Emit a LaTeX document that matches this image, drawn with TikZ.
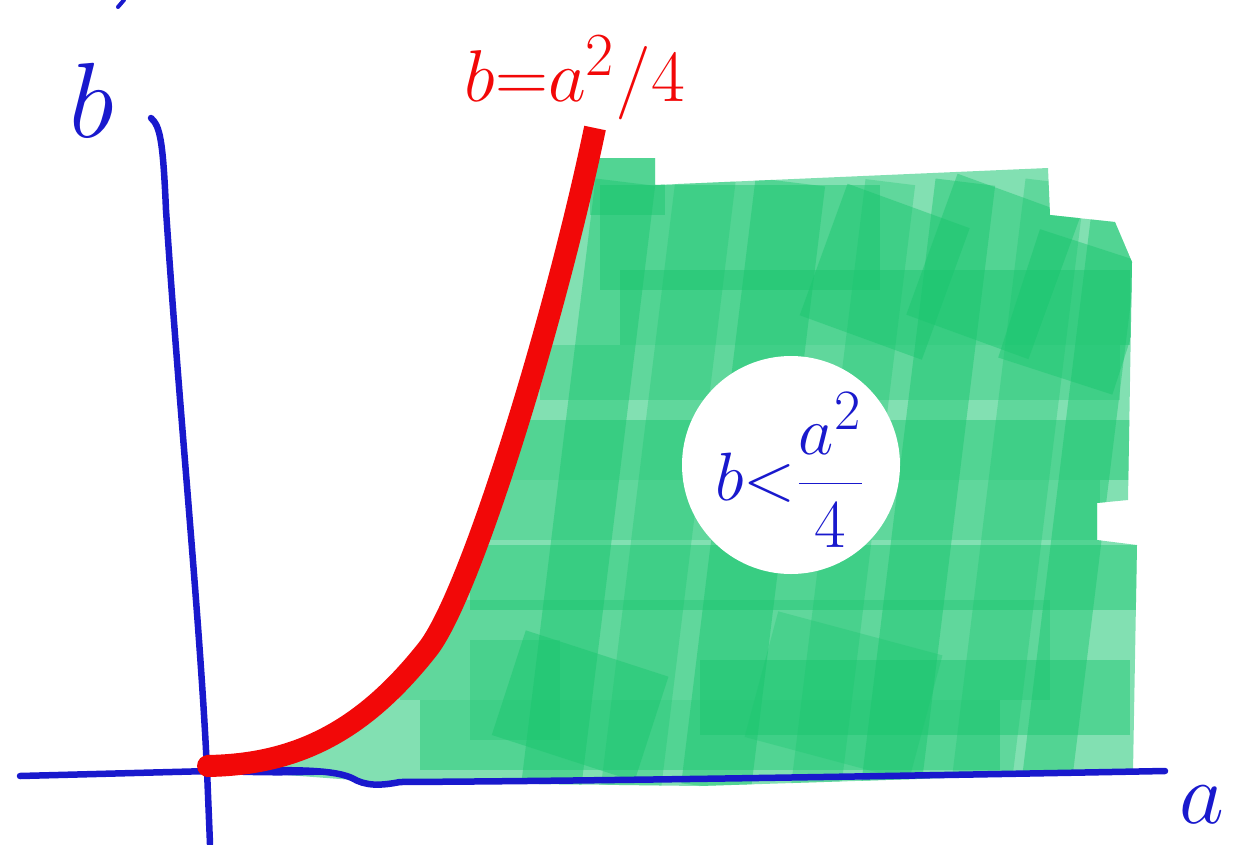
\documentclass[tikz,border=0pt]{standalone}
\definecolor{axisblue}{RGB}{25,25,205}
\definecolor{curvered}{RGB}{242,8,8}
\definecolor{glight}{RGB}{130,224,178}
\definecolor{gmid}{RGB}{25,198,110}
\tikzset{
  axisline/.style={draw=axisblue, line width=6.5pt, line cap=round, line join=round},
  patch/.style={fill=gmid, fill opacity=0.45},
  patchb/.style={fill=gmid, fill opacity=0.32},
  lbl/.style={inner sep=0pt, outer sep=0pt, font=\Huge, transform shape},
}
\begin{document}
\begin{tikzpicture}[x=1pt,y=-1pt]
\useasboundingbox (0,0) rectangle (1248,844);
\coordinate (O) at (210,771);
\coordinate (cstart) at (206,766);
\coordinate (cmid) at (427,650);
\coordinate (ctop) at (595,128);
% ---------- green region ----------
\begin{scope}
\clip (596,158) -- (655,158) -- (655,185) -- (1048,168) -- (1050,215) -- (1115,222)
  -- (1132,262) -- (1128,500) -- (1097,503) -- (1097,540) -- (1137,545) -- (1133,772)
  -- (700,786) -- (380,782) -- (300,776) -- (206,770) -- (cstart)
  .. controls (300,765) and (365,728) .. (cmid)
  .. controls (470,597) and (555,320) .. (ctop) -- cycle;
\fill[glight] (250,100) rectangle (1200,820);
% horizontal bands
\fill[patch] (590,155) rectangle (665,215);
\fill[patch] (600,185) rectangle (880,290);
\fill[patch] (620,270) rectangle (1130,345);
\fill[patchb] (540,345) rectangle (1120,400);
\fill[patch] (500,420) rectangle (1130,480);
\fill[patchb] (440,480) rectangle (1100,540);
\fill[patch] (470,545) rectangle (1140,610);
\fill[patchb] (400,600) rectangle (1050,700);
\fill[patch] (700,660) rectangle (1130,735);
\fill[patch] (420,700) rectangle (1000,770);
% slanted vertical bands
\fill[patch, rotate around={-7:(590,470)}] (560,180) rectangle (620,790);
\fill[patchb, rotate around={-7:(670,470)}] (640,170) rectangle (700,790);
\fill[patch, rotate around={-7:(755,470)}] (720,180) rectangle (790,790);
\fill[patchb, rotate around={-7:(855,470)}] (830,180) rectangle (880,790);
\fill[patch, rotate around={-7:(930,470)}] (900,180) rectangle (960,790);
\fill[patchb, rotate around={-7:(1020,470)}] (990,180) rectangle (1050,790);
\fill[patch, rotate around={-7:(1085,470)}] (1060,200) rectangle (1110,790);
% tilted patches
\fill[patch, rotate around={-20:(880,270)}] (820,200) rectangle (950,340);
\fill[patch, rotate around={-20:(990,260)}] (930,190) rectangle (1060,340);
\fill[patch, rotate around={-18:(1080,300)}] (1020,245) rectangle (1140,380);
\fill[patch, rotate around={-18:(580,690)}] (510,650) rectangle (660,760);
\fill[patchb, rotate around={-15:(840,690)}] (760,630) rectangle (930,760);
\fill[patchb] (470,640) rectangle (560,740);
\end{scope}
% ---------- white disk with inequality ----------
\node[circle, fill=white, minimum size=218pt, inner sep=0pt] (disk) at (791,465) {};
\node[lbl, text=axisblue, scale=2.75] (ineq) at (790,470) {$\displaystyle b\mathord{<}\frac{a^2}{4}$};
% ---------- axes ----------
\coordinate (ytop) at (151,118);
\coordinate (ybot) at (210,844);
\coordinate (xleft) at (20,776);
\coordinate (xright) at (1165,771);
\draw[axisline] (ytop) .. controls (160,126) and (163,140) .. (166,210)
  .. controls (180,420) and (200,620) .. (207,770) -- (ybot);
\draw[axisline] (xleft) -- (O) .. controls (280,770) and (330,768) .. (352,778)
  .. controls (365,786) and (380,786) .. (400,782) .. controls (600,781) and (900,776) .. (xright);
\draw[axisline, line width=5pt] (O) .. controls (260,774) and (300,773) .. (330,772);
\draw[axisline, line width=4pt] (118,7) -- (124,0);
% ---------- red parabola ----------
\draw[curvered, line width=22pt, line cap=butt] (cstart)
  .. controls (300,765) and (365,728) .. (cmid)
  .. controls (470,597) and (555,320) .. (ctop);
\fill[curvered] (O) ++(-2,-5) circle (11pt);
% ---------- labels ----------
\node[lbl, text=axisblue, scale=4.3] (blabel) at (92,100) {$b$};
\node[lbl, text=axisblue, scale=3.5] (alabel) at (1202,805) {$a$};
\node[lbl, text=curvered, scale=2.95] (eq) at (575,78) {$b{=}a^2/4$};
\end{tikzpicture}
\end{document}
